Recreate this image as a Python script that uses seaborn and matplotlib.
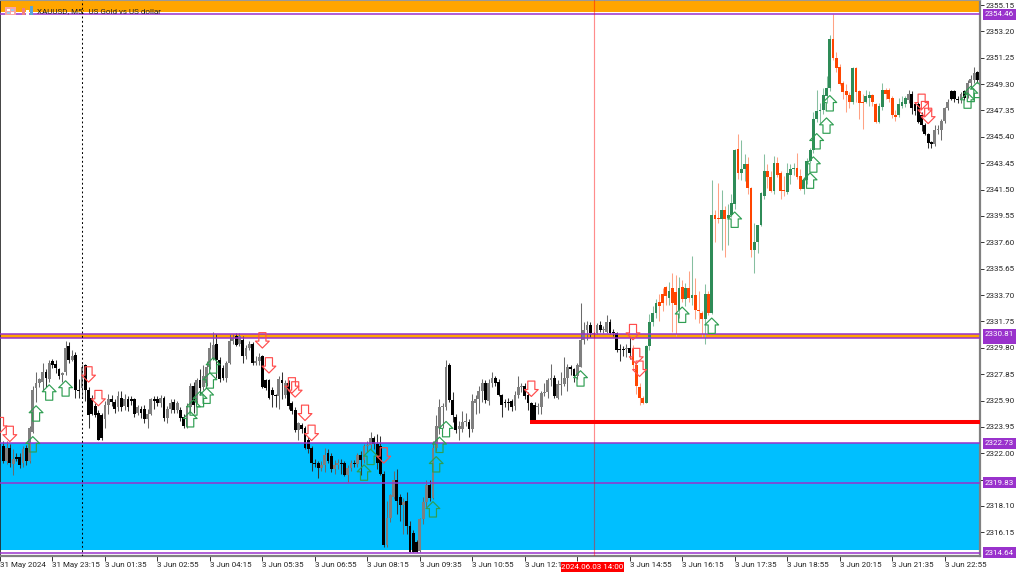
import numpy as np
import pandas as pd
import matplotlib
matplotlib.use("Agg")
import matplotlib.pyplot as plt
from matplotlib.markers import MarkerStyle
from matplotlib.path import Path
from matplotlib.patches import Rectangle
import seaborn as sns

opens = [
2322.5,2321.4,2322.4,2321.2,2321.7,2321.7,2321.3,2322.4,2321.4,2323.6,
2326.8,2327.2,2327.3,2328.0,2327.5,2328.8,2328.6,2328.2,2327.8,2328.0,
2329.9,2328.9,2329.3,2326.7,2326.8,2328.5,2326.7,2326.1,2325.5,2325.0,
2324.8,2324.5,2325.6,2326.0,2325.8,2325.4,2326.1,2325.5,2326.0,2326.0,
2326.0,2324.95,2325.3,2325.3,2324.5,2324.9,2326.0,2326.0,2325.7,2326.1,
2324.6,2325.3,2325.8,2325.2,2325.2,2324.7,2324.0,2325.4,2327.0,2325.9,
2327.4,2326.9,2327.2,2328.4,2329.0,2330.1,2328.9,2328.3,2327.6,2328.7,
2330.3,2330.7,2330.1,2330.4,2329.2,2329.8,2330.1,2328.7,2328.8,2329.2,
2327.4,2327.4,2326.7,2326.3,2326.2,2327.4,2326.3,2327.2,2325.7,2325.2,
2323.7,2324.1,2323.9,2323.0,2322.4,2321.3,2321.3,2320.9,2321.1,2322.0,
2321.8,2320.8,2321.1,2321.3,2321.3,2320.4,2320.9,2321.3,2321.2,2321.9,
2321.5,2322.5,2322.6,2323.1,2322.7,2322.5,2320.5,2315.2,2317.2,2318.8,
2320.0,2318.8,2318.2,2318.5,2316.6,2316.1,2315.4,2314.8,2317.1,2318.4,
2319.65,2318.7,2322.4,2323.9,2325.4,2325.4,2328.5,2325.95,2324.7,2323.8,
2323.8,2324.3,2324.3,2323.8,2325.7,2326.0,2326.6,2327.2,2325.9,2327.2,
2327.55,2327.3,2326.3,2325.8,2325.8,2325.9,2325.5,2326.3,2326.9,2327.0,
2326.3,2325.7,2325.6,2325.4,2325.4,2326.45,2326.5,2327.4,2327.6,2326.1,
2327.05,2327.1,2327.6,2328.4,2328.2,2327.7,2328.4,2330.4,2331.1,2331.5,
2330.8,2330.9,2331.5,2331.1,2331.0,2331.7,2331.0,2330.9,2329.7,2329.7,
2329.7,2329.8,2329.7,2328.5,2326.9,2326.1,2325.75,2329.9,2331.7,2332.4,
2333.2,2333.8,2334.3,2333.5,2334.2,2333.9,2332.6,2334.3,2333.4,2334.2,
2333.5,2333.7,2332.6,2332.4,2331.9,2333.8,2332.4,2339.6,2339.4,2339.3,
2340.0,2339.4,2339.6,2340.4,2344.5,2342.7,2343.0,2343.4,2341.6,2337.0,
2337.6,2338.9,2341.0,2342.85,2342.4,2341.4,2343.5,2342.7,2341.5,2341.3,
2342.6,2343.0,2343.1,2342.5,2341.55,2342.2,2343.6,2344.4,2346.7,2347.3,
2347.4,2348.4,2349.0,2352.6,2351.2,2350.6,2349.4,2348.8,2348.5,2348.0,
2350.5,2348.8,2348.0,2348.0,2348.3,2348.5,2347.8,2346.5,2347.6,2348.9,
2348.9,2348.3,2347.0,2347.0,2347.7,2347.8,2348.1,2348.6,2347.8,2347.8,
2347.0,2346.3,2345.6,2345.0,2344.9,2345.9,2345.9,2346.6,2347.5,2348.8,
2348.8,2348.2,2348.1,2348.8,2348.5,2349.4,2349.6,2350.2,2349.7]
highs = [
2322.9,2322.9,2322.7,2322.3,2322.0,2322.0,2322.5,2322.6,2324.0,2327.0,
2328.0,2327.6,2328.7,2328.2,2328.9,2329.0,2328.9,2328.3,2328.0,2330.3,
2330.2,2329.6,2329.5,2327.5,2328.6,2328.6,2326.9,2326.3,2325.7,2325.2,
2325.0,2325.9,2326.4,2326.3,2326.0,2326.6,2326.6,2326.4,2326.2,2326.2,
2326.1,2325.6,2325.5,2325.6,2325.3,2326.1,2326.2,2326.2,2326.3,2326.2,
2325.5,2326.0,2326.0,2325.9,2325.4,2324.9,2325.7,2327.2,2327.3,2327.6,
2328.2,2328.5,2328.8,2330.2,2331.0,2330.8,2329.1,2328.5,2328.8,2330.8,
2330.8,2330.9,2330.9,2330.7,2330.0,2330.3,2330.2,2329.2,2329.4,2329.3,
2327.5,2327.5,2326.9,2326.4,2327.7,2328.0,2327.4,2327.4,2325.9,2325.4,
2324.3,2324.2,2324.0,2323.2,2322.5,2321.6,2321.4,2321.4,2322.4,2322.3,
2322.0,2321.5,2321.6,2321.6,2321.4,2321.1,2321.5,2321.5,2322.0,2322.2,
2322.7,2322.9,2323.6,2323.3,2323.4,2323.3,2320.7,2318.5,2319.0,2320.7,
2320.8,2319.0,2318.7,2319.1,2317.0,2316.3,2315.6,2317.2,2318.8,2320.0,
2320.0,2322.9,2324.8,2326.0,2325.7,2328.9,2328.7,2326.5,2324.9,2324.4,
2325.1,2325.0,2324.5,2326.4,2326.3,2327.0,2327.5,2327.4,2327.5,2328.0,
2327.7,2327.5,2326.4,2326.0,2326.1,2326.0,2326.6,2327.7,2327.2,2327.2,
2326.5,2325.8,2325.8,2325.7,2326.6,2327.2,2327.6,2328.6,2327.8,2327.4,
2328.0,2329.1,2328.6,2328.5,2328.3,2328.7,2333.1,2331.7,2331.8,2331.7,
2331.0,2331.6,2331.8,2331.4,2332.2,2331.9,2331.2,2331.0,2330.1,2329.9,
2330.1,2330.6,2330.0,2328.6,2327.2,2326.2,2330.0,2332.3,2332.9,2333.4,
2333.8,2334.2,2334.4,2334.7,2335.3,2335.2,2335.0,2334.8,2334.6,2335.5,
2336.6,2334.95,2334.0,2332.5,2334.5,2334.0,2342.2,2340.0,2342.0,2341.5,
2340.3,2340.4,2341.2,2344.5,2345.6,2345.2,2344.1,2343.9,2341.7,2339.0,
2338.9,2341.3,2344.1,2343.4,2342.9,2344.0,2343.9,2342.9,2342.5,2343.5,
2343.4,2343.5,2344.2,2343.0,2342.4,2343.8,2344.6,2347.2,2348.9,2347.9,
2349.0,2349.9,2352.9,2354.46,2351.7,2350.8,2349.5,2349.3,2348.7,2350.6,
2350.6,2348.9,2348.6,2348.9,2348.8,2348.6,2347.9,2347.9,2349.4,2349.0,
2349.0,2348.4,2347.4,2348.3,2348.4,2348.4,2348.9,2348.8,2348.0,2348.0,
2347.2,2346.4,2345.7,2345.1,2346.3,2346.3,2346.7,2347.6,2348.2,2348.9,
2348.9,2348.4,2348.7,2348.9,2349.6,2350.0,2350.6,2350.3,2351.1]
lows = [
2321.3,2321.2,2321.0,2320.4,2321.4,2320.9,2321.0,2321.1,2321.3,2323.5,
2325.8,2326.9,2326.7,2326.9,2327.3,2328.3,2327.9,2327.5,2327.3,2327.8,
2328.7,2328.8,2326.1,2326.1,2326.1,2325.9,2323.9,2324.8,2324.7,2323.0,
2323.0,2323.9,2324.9,2325.5,2325.0,2325.1,2325.1,2325.2,2325.1,2325.6,
2324.7,2324.8,2324.6,2324.2,2323.9,2324.8,2325.3,2325.5,2325.4,2324.4,
2324.2,2325.0,2325.0,2325.0,2324.4,2323.9,2323.9,2325.0,2325.0,2325.7,
2326.3,2326.7,2327.0,2328.2,2328.9,2327.6,2327.3,2327.4,2327.3,2328.6,
2330.1,2329.9,2329.9,2328.7,2329.0,2329.6,2328.5,2328.5,2328.5,2326.8,
2326.7,2326.0,2325.4,2325.4,2325.3,2326.0,2326.1,2325.3,2324.9,2323.6,
2323.0,2323.5,2322.3,2322.0,2320.7,2321.0,2320.2,2320.7,2320.6,2321.3,
2320.6,2320.5,2320.8,2320.5,2320.3,2319.9,2320.7,2321.0,2321.0,2320.4,
2321.3,2322.1,2322.3,2322.3,2320.8,2320.4,2315.1,2315.1,2316.9,2318.6,
2317.5,2317.0,2316.0,2316.0,2314.7,2314.7,2314.7,2314.7,2316.8,2318.0,
2318.5,2318.6,2322.2,2323.4,2323.9,2325.2,2325.8,2324.3,2323.5,2323.0,
2323.6,2324.0,2323.2,2323.6,2324.9,2325.0,2325.8,2325.7,2325.6,2326.9,
2327.0,2326.2,2324.7,2325.4,2325.2,2325.1,2325.2,2326.1,2326.5,2326.0,
2325.2,2324.4,2324.4,2324.9,2324.9,2326.2,2326.1,2327.0,2326.1,2326.0,
2326.3,2327.0,2326.6,2327.8,2327.3,2327.5,2328.4,2330.1,2330.4,2330.6,
2330.6,2330.8,2331.0,2330.9,2330.9,2330.8,2330.7,2329.5,2328.8,2329.2,
2329.1,2329.0,2328.2,2326.4,2325.6,2325.65,2325.7,2329.6,2331.4,2332.0,
2331.8,2332.5,2333.0,2333.0,2331.0,2330.7,2332.0,2333.2,2332.9,2333.2,
2333.0,2331.9,2331.6,2330.6,2330.1,2332.2,2332.3,2337.6,2339.0,2337.0,
2336.5,2337.4,2339.5,2340.1,2342.3,2342.2,2342.1,2341.2,2336.5,2335.3,
2336.8,2338.8,2340.8,2341.6,2341.3,2341.2,2342.4,2340.8,2341.0,2341.2,
2341.9,2342.6,2342.3,2341.5,2341.2,2341.9,2343.5,2344.2,2346.5,2346.4,
2347.1,2347.9,2348.8,2351.1,2350.2,2349.2,2348.2,2347.2,2347.5,2347.8,
2348.0,2346.7,2346.0,2347.9,2347.7,2347.7,2346.4,2346.4,2347.4,2348.2,
2348.0,2346.8,2346.6,2346.9,2347.5,2347.6,2347.9,2347.1,2347.0,2346.4,
2345.8,2345.5,2344.6,2344.6,2344.7,2345.6,2345.2,2346.4,2347.4,2348.1,
2348.0,2347.9,2347.9,2348.1,2348.3,2349.0,2349.4,2349.4,2349.6]
closes = [
2321.4,2322.4,2321.3,2321.6,2321.6,2321.1,2322.3,2321.4,2323.9,2326.7,
2327.2,2327.5,2328.0,2327.6,2328.7,2328.5,2328.3,2327.7,2327.9,2329.8,
2328.9,2329.2,2326.7,2326.6,2328.4,2326.7,2324.8,2324.9,2324.8,2323.0,
2323.1,2325.6,2326.0,2325.8,2325.3,2326.2,2325.4,2326.0,2325.4,2325.9,
2324.9,2325.4,2325.0,2324.5,2324.9,2326.0,2325.9,2325.7,2326.1,2324.6,
2325.3,2325.7,2325.2,2325.7,2324.6,2324.0,2325.5,2327.0,2325.6,2327.4,
2326.8,2327.7,2328.4,2329.8,2330.0,2328.9,2327.5,2327.6,2328.7,2330.3,
2330.5,2330.0,2330.7,2329.2,2329.8,2330.1,2328.7,2328.8,2329.1,2326.9,
2326.8,2326.1,2326.3,2326.2,2327.5,2327.2,2327.2,2325.5,2325.1,2323.7,
2324.2,2323.8,2322.4,2322.3,2321.3,2321.2,2320.9,2321.1,2321.9,2321.4,
2320.8,2321.1,2321.3,2321.2,2320.4,2320.9,2321.3,2321.2,2321.9,2321.5,
2322.5,2322.6,2323.1,2322.7,2321.3,2320.5,2315.2,2317.2,2318.9,2320.05,
2318.5,2318.2,2318.4,2316.6,2314.7,2314.7,2314.7,2317.1,2318.4,2319.65,
2318.7,2322.4,2324.0,2325.45,2325.5,2328.4,2325.95,2324.8,2323.7,2324.0,
2324.3,2324.4,2323.8,2325.9,2326.0,2326.6,2327.2,2325.95,2327.2,2327.55,
2327.2,2326.3,2325.6,2325.7,2325.7,2325.4,2326.3,2326.9,2326.9,2326.2,
2325.7,2324.4,2324.4,2325.45,2326.45,2326.5,2327.4,2327.6,2326.2,2327.1,
2327.1,2327.6,2328.4,2328.2,2327.7,2328.5,2330.4,2331.1,2331.5,2330.9,
2330.8,2331.5,2331.1,2331.1,2331.7,2330.9,2330.9,2329.6,2329.6,2329.6,
2329.7,2329.4,2328.5,2327.0,2326.1,2325.75,2329.9,2331.7,2332.4,2333.1,
2332.9,2333.1,2333.6,2334.0,2333.1,2333.0,2334.2,2333.4,2334.2,2333.5,
2333.7,2332.6,2332.5,2331.9,2333.8,2332.4,2339.6,2339.3,2339.3,2340.0,
2339.3,2339.6,2340.5,2344.4,2342.7,2343.0,2343.4,2341.6,2337.0,2337.6,
2338.9,2341.25,2342.85,2342.4,2341.4,2343.5,2342.6,2341.4,2341.4,2342.7,
2343.0,2343.1,2342.45,2341.55,2342.2,2343.6,2344.4,2346.7,2347.3,2347.4,
2348.5,2349.0,2352.6,2351.2,2350.5,2349.3,2348.7,2348.5,2348.0,2350.5,
2348.7,2347.9,2347.9,2348.4,2348.5,2348.0,2346.5,2347.7,2348.9,2348.6,
2348.2,2347.0,2346.9,2347.8,2348.0,2348.3,2348.6,2347.5,2347.3,2346.5,
2346.3,2345.6,2344.95,2344.9,2345.9,2345.95,2346.6,2347.5,2348.0,2348.2,
2348.2,2348.1,2348.6,2348.3,2349.4,2349.7,2350.1,2349.6,2350.9]

up_bars = [9,10,14,19,57,58,60,62,63,64,110,112,131,132,133,135,176,207,216,223,246,247,248,251,252,294,295,297]
up_prices = [2323.23,2325.51,2327.06,2327.36,2325.08,2325.95,2326.57,2326.82,2327.95,2329.06,
             2321.14,2322.30,2318.42,2321.75,2323.19,2324.35,2328.10,2332.81,2332.00,2339.84,
             2342.73,2343.92,2345.64,2346.80,2348.45,2348.65,2349.14,2349.44]
down_bars = [-1,2,26,29,79,81,88,89,92,94,116,161,192,193,194,280,281,282]
down_prices = [2323.51,2322.86,2327.26,2325.51,2329.78,2327.93,2326.45,2326.15,2324.42,2322.94,
               2321.27,2326.20,2330.39,2328.62,2327.68,2347.42,2346.88,2346.38]

y_ticks = [2355.15,2353.20,2351.25,2349.30,2347.35,2345.40,2343.45,2341.50,2339.55,2337.60,2335.65,
           2333.70,2331.75,2329.80,2327.85,2325.90,2323.95,2322.00,2320.05,2318.10,2316.15]
x_labels = ["31 May 2024","31 May 23:15","3 Jun 01:35","3 Jun 02:55","3 Jun 04:15","3 Jun 05:35",
            "3 Jun 06:55","3 Jun 08:15","3 Jun 09:35","3 Jun 10:55","3 Jun 12:15","3 Jun 13:35",
            "3 Jun 14:55","3 Jun 16:15","3 Jun 17:35","3 Jun 18:55","3 Jun 20:15","3 Jun 21:35","3 Jun 22:55"]
level_lines = [2354.46,2330.81,2330.51,2322.73,2319.83,2314.64]

FONT = "Roboto"
FS = 5.8
PURPLE = "#9932CC"
sns.set_theme(style="white")
plt.rcParams["font.family"] = [FONT, "DejaVu Sans"]

W, H = 1024, 575
PLOT_R, PLOT_B = 980, 556
fig = plt.figure(figsize=(W/100, H/100), dpi=100, facecolor="white")
ax = fig.add_axes([0, 1-PLOT_B/H, PLOT_R/W, PLOT_B/H])
ax.set_xlim(-1, 297.8)
ax.set_ylim(2314.40, 2355.52)

df = pd.DataFrame({"bar": np.arange(len(closes)), "open": opens, "high": highs, "low": lows, "close": closes})
df["up"] = df["close"] >= df["open"]
colored = df["bar"].between(192, 275)
body_col = np.where(colored, np.where(df["up"], "#2e8b57", "#ff4500"), np.where(df["up"], "#7f7f7f", "#000000"))
wick_col = np.where(colored, np.where(df["up"], "#86bfa0", "#ffa284"), np.where(df["up"], "#6a6a6a", "#333333"))

# zones
ax.axhspan(2354.62, 2355.45, color="#FFA500", lw=0, zorder=1)
ax.axhspan(2330.51, 2330.81, color="#FFA500", lw=0, zorder=1)
ax.axhspan(2314.85, 2322.73, color="#00BFFF", lw=0, zorder=1)

# candles
ax.vlines(df["bar"], df["low"], df["high"], colors=wick_col, lw=0.75, zorder=2)
bottoms = df[["open", "close"]].min(axis=1)
heights = (df["open"] - df["close"]).abs().clip(lower=0.09)
ax.bar(df["bar"], heights, bottom=bottoms, width=0.86, color=body_col, lw=0, zorder=2.1)

for lv in level_lines:
    ax.axhline(lv, color=PURPLE, lw=1.1, zorder=3)

ax.plot([160.5, 297.8], [2324.3, 2324.3], color="#ff0000", lw=2.9, solid_capstyle="butt", zorder=3)
ax.axvline(180, color="#ff0000", alpha=0.45, lw=0.85, zorder=3)
ax.axvline(24, color="black", lw=0.75, dashes=(1.8, 2.4), zorder=3)

# arrows, anchored on their tips
def arrow(sign):
    v = [(0,0),(0.45,-0.45),(0.23,-0.45),(0.23,-1),(-0.23,-1),(-0.23,-0.45),(-0.45,-0.45),(0,0)]
    return MarkerStyle(Path([(a, sign*b) for a, b in v], closed=True))

up_df = pd.DataFrame({"bar": up_bars, "price": up_prices})
down_df = pd.DataFrame({"bar": down_bars, "price": down_prices})
for d, sign, col in [(up_df, 1, "#2f9e52"), (down_df, -1, "#ff4d4d")]:
    sns.scatterplot(data=d, x="bar", y="price", marker=arrow(sign), s=490, color=col, ax=ax,
                    legend=False, zorder=4)
    pc = ax.collections[-1]
    pc.set_facecolor("none")
    pc.set_edgecolor(col)
    pc.set_linewidth(0.85)

# axes
for s, col, lw in [("right", "#808080", 1.6), ("bottom", "#808080", 1.6), ("left", "#222222", 1.2), ("top", "#999999", 0.8)]:
    ax.spines[s].set_visible(True)
    ax.spines[s].set_color(col)
    ax.spines[s].set_linewidth(lw)
ax.yaxis.tick_right()
ax.set_yticks(y_ticks, [f"{v:.2f}" for v in y_ticks])
ax.set_xticks(-1 + 16*np.arange(len(x_labels)), x_labels)
ax.tick_params(axis="y", length=3, width=0.7, pad=1, labelsize=FS, color="#333333", labelcolor="#222222", right=True)
ax.tick_params(axis="x", length=3.5, width=0.7, pad=1, labelsize=FS, color="#333333", labelcolor="#222222", bottom=True)
for t in ax.get_xticklabels():
    t.set_ha("left")
ax.set_xlabel(""); ax.set_ylabel("")
ax.grid(False)

# price tags, later ones painted over earlier ones (the 2330.51 tag lies under 2330.81)
tag_order = [2330.51, 2354.46, 2330.81, 2322.73, 2319.83, 2314.64]
for k, lv in enumerate(tag_order):
    yp = ax.transData.transform((0, lv))[1] / H
    fig.add_artist(Rectangle((983/W, yp-5.5/H), 33/W, 11/H, transform=fig.transFigure, fc=PURPLE, ec="none", zorder=5+2*k))
    fig.text(999.5/W, yp, f"{lv:.2f}", color="white", fontsize=FS, ha="center", va="center", zorder=6+2*k)

# crosshair time tag
fig.add_artist(Rectangle((561/W, 1-572/H), 63/W, 10/H, transform=fig.transFigure, fc="#ff0000", ec="none", zorder=20))
fig.text(592.5/W, 1-567/H, "2024.06.03 14:00", color="white", fontsize=FS, ha="center", va="center", zorder=21)

# title and small icons
fig.text(37/W, 1-11/H, "XAUUSD, M5:  US Gold vs US dollar", color="#222222", fontsize=FS, ha="left", va="center", zorder=21)
for (x0, y0, w, h, c) in [(5,7,11,8,"#f7a6a6"),(7,9,3,2,"#ffffff"),(11,9,3,2,"#9ccbf0"),(7,12,3,2,"#9ccbf0"),(11,12,3,2,"#ffffff"),
                          (22,8,3,7,"#f08080"),(26,10,3,5,"#ffffff"),(30,6,3,9,"#5aa5d8")]:
    fig.add_artist(Rectangle((x0/W, 1-(y0+h)/H), w/W, h/H, transform=fig.transFigure, fc=c, ec="none", zorder=20))

fig.savefig("out.png", dpi=100)
